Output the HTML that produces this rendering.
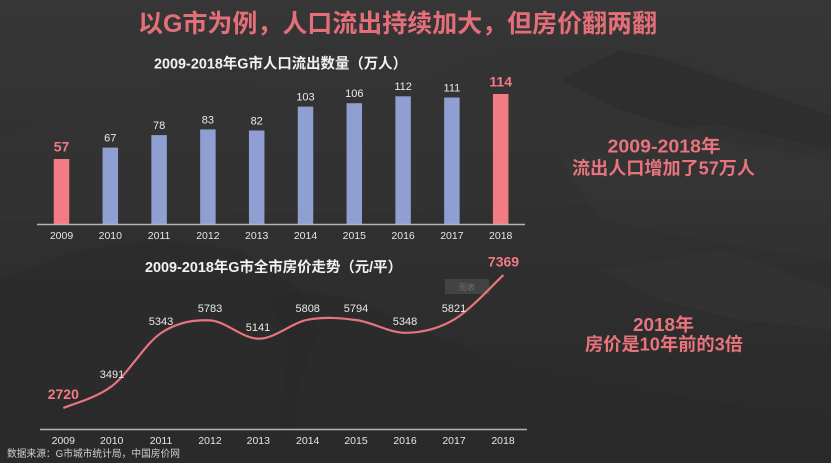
<!DOCTYPE html>
<html><head><meta charset="utf-8"><style>
html,body{margin:0;padding:0;background:#2e2e2e;}
svg{display:block;}
text{font-family:"Liberation Sans","Noto Sans CJK SC",sans-serif;}
</style></head><body>
<svg width="831" height="463" viewBox="0 0 831 463" xmlns="http://www.w3.org/2000/svg">
<defs>
<linearGradient id="bg" x1="0" y1="0" x2="0" y2="1">
<stop offset="0" stop-color="#363636"/>
<stop offset="0.45" stop-color="#303030"/>
<stop offset="1" stop-color="#2a2a2a"/>
</linearGradient>
</defs>
<rect width="831" height="463" fill="url(#bg)"/>
<!-- background mountains -->
<polygon points="0,140 60,110 130,95 200,80 260,90 330,120 400,100 470,60 520,50 600,45 680,60 760,90 831,110 831,200 0,220" fill="#333" opacity="0.6"/>
<polygon points="560,80 620,50 660,58 710,75 770,95 831,115 831,160 720,140 620,110" fill="#2b2b2b" opacity="0.6"/>
<polygon points="560,160 650,130 720,125 790,140 831,150 831,260 700,240 600,220" fill="#353535" opacity="0.6"/>
<polygon points="0,280 80,250 160,240 240,250 300,290 360,300 420,330 500,360 600,380 700,400 831,420 831,463 0,463" fill="#2b2b2b" opacity="0.7"/>
<polygon points="600,270 660,260 720,250 780,270 831,290 831,330 740,320 660,300" fill="#383838" opacity="0.45"/>
<polygon points="270,300 300,290 320,330 300,380 290,440 280,440 285,380 290,340" fill="#272727" opacity="0.5"/>

<!-- main title -->
<text x="397.5" y="32" text-anchor="middle" font-size="25" font-weight="bold" fill="#e46f78" textLength="519" lengthAdjust="spacingAndGlyphs">以G市为例，人口流出持续加大，但房价翻两翻</text>

<!-- bar chart subtitle -->
<text x="154" y="68.5" font-size="14.5" font-weight="bold" fill="#f2f2f2" textLength="253" lengthAdjust="spacingAndGlyphs">2009-2018年G市人口流出数量（万人）</text>

<!-- bars -->
<g>
<rect x="53.75" y="159.0" width="15.5" height="65.0" fill="#f27b84"/>
<rect x="102.55" y="147.6" width="15.5" height="76.4" fill="#8f9fd2"/>
<rect x="151.35" y="135.1" width="15.5" height="88.9" fill="#8f9fd2"/>
<rect x="200.15" y="129.4" width="15.5" height="94.6" fill="#8f9fd2"/>
<rect x="248.95" y="130.5" width="15.5" height="93.5" fill="#8f9fd2"/>
<rect x="297.75" y="106.6" width="15.5" height="117.4" fill="#8f9fd2"/>
<rect x="346.55" y="103.2" width="15.5" height="120.8" fill="#8f9fd2"/>
<rect x="395.35" y="96.3" width="15.5" height="127.7" fill="#8f9fd2"/>
<rect x="444.15" y="97.5" width="15.5" height="126.5" fill="#8f9fd2"/>
<rect x="492.95" y="94.0" width="15.5" height="130.0" fill="#f27b84"/>
</g>
<line x1="37" y1="224.5" x2="525" y2="224.5" stroke="#b5b5b5" stroke-width="1.5"/>
<g font-size="11" fill="#eaeaea" text-anchor="middle">
<text x="61.5" y="151.5" font-size="14" font-weight="bold" fill="#f27b84">57</text>
<text x="110.3" y="141.5">67</text>
<text x="159.1" y="129">78</text>
<text x="207.9" y="123.3">83</text>
<text x="256.7" y="124.4">82</text>
<text x="305.5" y="100.5">103</text>
<text x="354.3" y="97.1">106</text>
<text x="403.1" y="90.2">112</text>
<text x="451.9" y="91.4">111</text>
<text x="500.7" y="86.5" font-size="14" font-weight="bold" fill="#f27b84">114</text>
</g>
<g font-size="10.5" fill="#e6e6e6" text-anchor="middle">
<text x="61.5" y="239">2009</text>
<text x="110.3" y="239">2010</text>
<text x="159.1" y="239">2011</text>
<text x="207.9" y="239">2012</text>
<text x="256.7" y="239">2013</text>
<text x="305.5" y="239">2014</text>
<text x="354.3" y="239">2015</text>
<text x="403.1" y="239">2016</text>
<text x="451.9" y="239">2017</text>
<text x="500.7" y="239">2018</text>
</g>

<!-- line chart subtitle -->
<text x="145" y="272" font-size="14.5" font-weight="bold" fill="#f2f2f2" textLength="257" lengthAdjust="spacingAndGlyphs">2009-2018年G市全市房价走势（元/平）</text>

<!-- faint watermark box -->
<rect x="445" y="279" width="44" height="15" fill="#6a6a6a" opacity="0.35"/>
<text x="467" y="290" font-size="8" fill="#888" text-anchor="middle" opacity="0.6">图表</text>

<!-- line -->
<path d="M63.3,408 C71.45,404.32 95.9,398.4 112.2,385.9 C128.5,373.4 144.8,343.9 161.1,333 C177.4,322.1 193.7,319.45 210,320.4 C226.3,321.35 242.6,338.82 258.9,338.7 C275.2,338.58 291.5,322.8 307.8,319.7 C324.1,316.6 340.4,317.92 356.7,320.1 C373,322.28 389.3,332.93 405.6,332.8 C421.9,332.67 438.2,328.93 454.5,319.3 C470.8,309.67 495.25,282.38 503.4,275" fill="none" stroke="#e8747d" stroke-width="2.2"/>
<line x1="40" y1="429.5" x2="527" y2="429.5" stroke="#b5b5b5" stroke-width="1.5"/>
<g font-size="11" fill="#eaeaea" text-anchor="middle">
<text x="63.3" y="399" font-size="14" font-weight="bold" fill="#f27b84">2720</text>
<text x="112" y="378">3491</text>
<text x="161" y="325">5343</text>
<text x="210" y="312">5783</text>
<text x="258" y="331">5141</text>
<text x="307.7" y="312">5808</text>
<text x="356" y="312">5794</text>
<text x="405" y="325">5348</text>
<text x="454" y="312">5821</text>
<text x="503.5" y="266.5" font-size="14" font-weight="bold" fill="#f27b84">7369</text>
</g>
<g font-size="10.5" fill="#e6e6e6" text-anchor="middle">
<text x="63.3" y="444">2009</text>
<text x="111.7" y="444">2010</text>
<text x="161" y="444">2011</text>
<text x="210" y="444">2012</text>
<text x="258.3" y="444">2013</text>
<text x="307.7" y="444">2014</text>
<text x="356" y="444">2015</text>
<text x="405" y="444">2016</text>
<text x="454" y="444">2017</text>
<text x="503" y="444">2018</text>
</g>

<!-- right annotations -->
<g font-weight="bold" fill="#e8747d" text-anchor="middle">
<text x="664" y="152.5" font-size="18" textLength="113" lengthAdjust="spacingAndGlyphs">2009-2018年</text>
<text x="663.5" y="174.5" font-size="18" textLength="183" lengthAdjust="spacingAndGlyphs">流出人口增加了57万人</text>
<text x="663.5" y="331" font-size="18" textLength="61" lengthAdjust="spacingAndGlyphs">2018年</text>
<text x="664" y="350.5" font-size="18" textLength="158" lengthAdjust="spacingAndGlyphs">房价是10年前的3倍</text>
</g>

<!-- source -->
<text x="7" y="457" font-size="10" fill="#d0d0d0" textLength="173" lengthAdjust="spacingAndGlyphs">数据来源：G市城市统计局，中国房价网</text>
</svg>
</body></html>
